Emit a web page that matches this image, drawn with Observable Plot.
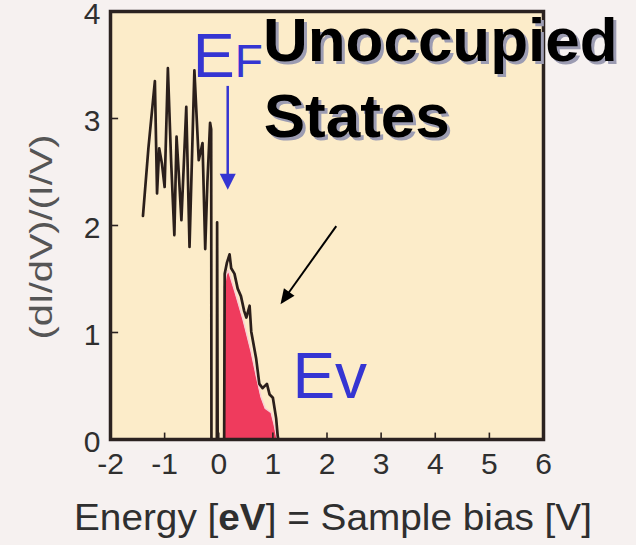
<!DOCTYPE html>
<html><head><meta charset="utf-8">
<script src="https://cdn.jsdelivr.net/npm/d3@7"></script>
<script src="https://cdn.jsdelivr.net/npm/@observablehq/plot@0.6"></script>
<style>body{margin:0;background:#f6f1f0;} svg{display:block}</style>
</head><body><div id="chart"></div>
<script>
// Measured tunnelling spectrum (black trace)
const curveX = [-1.40,-1.30,-1.18,-1.14,-1.10,-1.05,-1.00,-0.94,-0.88,-0.82,-0.78,-0.74,-0.69,-0.60,-0.54,-0.45,-0.37,-0.30,-0.25,-0.21,-0.16,-0.14,-0.135,-0.035,-0.03,-0.02,0.10,0.11,0.15,0.20,0.23,0.29,0.35,0.41,0.47,0.51,0.57,0.60,0.69,0.75,0.81,0.89,0.94,1.00,1.06,1.09,1.10];
const curveY = [2.09,2.72,3.35,2.30,2.72,2.58,2.36,3.47,2.60,1.91,2.83,2.50,2.05,3.11,1.80,3.45,2.61,2.77,1.78,2.40,2.96,2.90,0.00,0.00,2.03,0.00,0.00,1.55,1.65,1.73,1.60,1.55,1.41,1.34,1.20,1.14,1.25,1.01,0.76,0.52,0.48,0.52,0.42,0.39,0.20,0.03,0.00];
// Unoccupied-states region (red fill)
const fillX = [0.10,0.10,0.14,0.18,0.30,0.45,0.60,0.70,0.78,0.86,0.97,1.02,1.06,1.08];
const fillY = [0.00,1.42,1.54,1.58,1.38,1.12,0.82,0.58,0.40,0.29,0.25,0.15,0.05,0.00];
// Axes
const xTicks = [-2,-1,0,1,2,3,4,5,6];
const yTicks = [0,1,2,3,4];
const xInnerTicks = [-1,0,1,2,3,4,5];
const yInnerTicks = [1,2,3];
const yLabel = "(dI/dV)/(I/V)";

const curve = curveX.map((x, i) => ({x, y: curveY[i]}));
const fill = fillX.map((x, i) => ({x, y: fillY[i]}));

const FONT = "'Liberation Sans', Arial, Helvetica, sans-serif";
const ink = "#2b2220";
const textInk = "#2f2f2f";

const plot = Plot.plot({
  width: 636, height: 545,
  marginLeft: 110, marginRight: 93, marginTop: 11, marginBottom: 106,
  style: {background: "transparent", fontFamily: FONT, color: textInk},
  x: {domain: [-2, 6]},
  y: {domain: [0, 4]},
  marks: [
    Plot.frame({fill: "#fcecc9", stroke: null}),
    Plot.areaY(fill, {x: "x", y: "y", fill: "#ef3b5d"}),
    Plot.line(fill, {x: "x", y: "y", stroke: "#f8d0d6", strokeWidth: 1.5}),
    Plot.line(curve, {x: "x", y: "y", stroke: "#2b1f1b", strokeWidth: 2.7}),
    Plot.ruleX(xInnerTicks, {y1: 0, y2: 0.06, stroke: ink, strokeWidth: 1.6}),
    Plot.ruleY(yInnerTicks, {x1: -2, x2: -1.85, stroke: ink, strokeWidth: 1.6}),
    Plot.frame({stroke: ink, strokeWidth: 3.5}),
    Plot.axisX({ticks: xTicks, tickSize: 0, tickPadding: 13, fontSize: 30, label: null, fill: textInk, tickFormat: d => String(d)}),
    Plot.axisY({ticks: yTicks, tickSize: 0, tickPadding: 10, fontSize: 30, label: null, fill: textInk, dy: 3, tickFormat: d => String(d)})
  ]
});

const svg = d3.select(plot);
const sx = v => plot.scale("x").apply(v);
const sy = v => plot.scale("y").apply(v);

// Y axis title
svg.append("text")
  .attr("transform", `translate(52,${(sy(0)+sy(4))/2 + 12}) rotate(-90)`)
  .attr("text-anchor", "middle")
  .attr("font-family", FONT).attr("font-size", 31).attr("fill", "#555")
  .attr("textLength", 205).attr("lengthAdjust", "spacingAndGlyphs")
  .text(yLabel);

// X axis title with bold eV
const xt = svg.append("text")
  .attr("x", 74).attr("y", 530).attr("text-anchor", "start")
  .attr("font-family", FONT).attr("font-size", 36).attr("fill", textInk)
  .attr("textLength", 518).attr("lengthAdjust", "spacingAndGlyphs");
xt.append("tspan").text("Energy [");
xt.append("tspan").attr("font-weight", "bold").text("eV");
xt.append("tspan").text("] = Sample bias [V]");

// Annotations
const blue = "#3535d2";
const ef = svg.append("text").attr("x", sx(-0.47)).attr("y", sy(3.38))
  .attr("text-anchor", "start").attr("font-family", FONT).attr("fill", blue);
ef.append("tspan").attr("font-size", 63).text("E");
ef.append("tspan").attr("font-size", 46).text("F");

svg.append("text").attr("x", sx(1.37)).attr("y", sy(0.385)).attr("text-anchor", "start")
  .attr("font-family", FONT).attr("font-size", 64).attr("fill", blue).text("Ev");

for (const [t, x, y] of [["Unoccupied", 0.825, 3.53], ["States", 0.84, 2.82]]) {
  svg.append("text").attr("x", sx(x) + 3).attr("y", sy(y) + 3).attr("text-anchor", "start")
    .attr("font-family", FONT).attr("font-weight", "bold").attr("font-size", 62)
    .attr("fill", "#9c9cb2").text(t);
  svg.append("text").attr("x", sx(x)).attr("y", sy(y)).attr("text-anchor", "start")
    .attr("font-family", FONT).attr("font-weight", "bold").attr("font-size", 62)
    .attr("fill", "#000").text(t);
}

function arrow(x1, y1, x2, y2, color, width, headLen, headHalf) {
  const X1 = sx(x1), Y1 = sy(y1), X2 = sx(x2), Y2 = sy(y2);
  const dx = X2 - X1, dy = Y2 - Y1, L = Math.hypot(dx, dy);
  const ux = dx / L, uy = dy / L;
  const bx = X2 - ux * headLen, by = Y2 - uy * headLen;
  svg.append("line").attr("x1", X1).attr("y1", Y1).attr("x2", bx + ux).attr("y2", by + uy)
    .attr("stroke", color).attr("stroke-width", width);
  svg.append("path")
    .attr("d", `M${X2},${Y2}L${bx - uy * headHalf},${by + ux * headHalf}L${bx + uy * headHalf},${by - ux * headHalf}Z`)
    .attr("fill", color);
}
arrow(0.175, 3.30, 0.175, 2.33, blue, 2.5, 16, 8);
arrow(2.18, 1.99, 1.15, 1.26, "#000", 2, 15, 6.5);

document.getElementById("chart").appendChild(plot);
</script>
</body></html>
